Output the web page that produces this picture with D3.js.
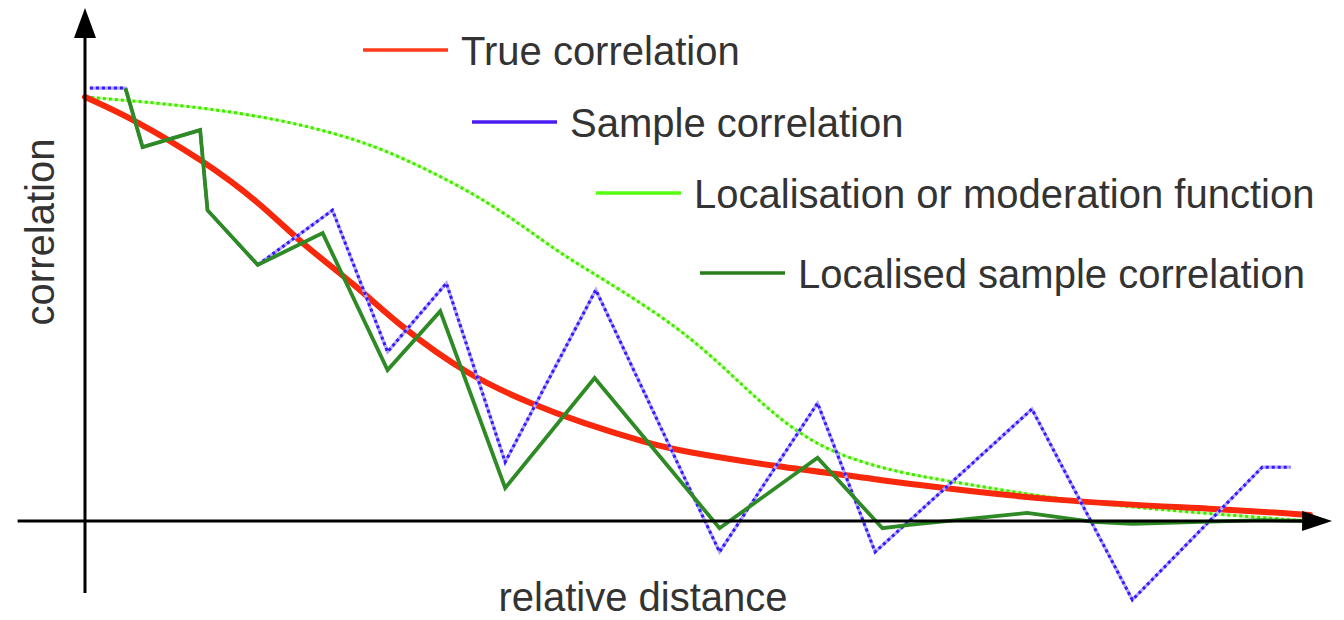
<!DOCTYPE html>
<html><head><meta charset="utf-8">
<script src="https://cdn.jsdelivr.net/npm/d3@7"></script>
<style>html,body{margin:0;padding:0;background:#fff;} svg{display:block;}</style>
</head><body>
<svg id="chart" width="1344" height="620"></svg>
<script>
// ---- data (relative distance 0..100, correlation) ----
const trueDist = [0, 4.1, 9.6, 14.3, 17.6, 22.2, 25.6, 31.2, 36.6, 40.4, 46.1, 48.6, 56.7, 63.3, 66.5, 79.6, 92.7, 100];
const trueCorr = [1.0, 0.946, 0.851, 0.750, 0.656, 0.554, 0.462, 0.344, 0.274, 0.233, 0.182, 0.165, 0.127, 0.104, 0.090, 0.045, 0.029, 0.014];

const sampleDist = [0.4, 3.3, 4.7, 9.4, 10.0, 14.1, 20.2, 24.7, 29.5, 34.3, 41.7, 51.8, 59.8, 64.5, 77.3, 85.5, 96.1, 98.4];
const sampleCorr = [1.021, 1.021, 0.882, 0.922, 0.733, 0.604, 0.733, 0.399, 0.561, 0.139, 0.545, -0.073, 0.278, -0.073, 0.264, -0.186, 0.127, 0.127];

const locDist = [0, 6.1, 14.3, 22.5, 27.9, 33.3, 38.8, 41.9, 48.6, 52.7, 56.7, 60.8, 66.5, 71.4, 79.6, 87.8, 99.8];
const locValue = [1.0, 0.986, 0.958, 0.901, 0.830, 0.748, 0.630, 0.578, 0.455, 0.347, 0.238, 0.160, 0.113, 0.090, 0.050, 0.026, 0.0];

const localisedDist = [3.3, 4.7, 9.4, 10.0, 14.1, 19.4, 24.7, 29.0, 34.3, 41.6, 51.8, 59.8, 65.1, 67.3, 76.9, 82.3, 85.5, 96.1, 99.8];
const localisedCorr = [1.021, 0.882, 0.922, 0.733, 0.604, 0.679, 0.356, 0.495, 0.078, 0.337, -0.017, 0.149, -0.017, -0.009, 0.019, -0.002, -0.007, 0.002, 0.0];

const legendLabels = ["True correlation", "Sample correlation", "Localisation or moderation function", "Localised sample correlation"];
const xLabel = "relative distance";
const yLabel = "correlation";

// ---- drawing ----
const svg = d3.select("#chart");
svg.append("rect").attr("width", 1344).attr("height", 620).attr("fill", "#fff");

const x = d3.scaleLinear().domain([0, 100]).range([85, 1310]);
const y = d3.scaleLinear().domain([0, 1]).range([521, 97]);

const zip = (a, b) => a.map((v, i) => [v, b[i]]);
const lineLin = d3.line().x(d => x(d[0])).y(d => y(d[1]));
const lineSmooth = d3.line().x(d => x(d[0])).y(d => y(d[1])).curve(d3.curveBasis);

const g = svg.append("g");

// localisation function (dotted light green)
g.append("path").attr("d", lineSmooth(zip(locDist, locValue)))
  .attr("fill", "none").attr("stroke", "#c4ffa0").attr("stroke-width", 3);
g.append("path").attr("d", lineSmooth(zip(locDist, locValue)))
  .attr("fill", "none").attr("stroke", "#3fe800").attr("stroke-width", 3)
  .attr("stroke-dasharray", "3,3");

// true correlation (thick red)
g.append("path").attr("d", lineSmooth(zip(trueDist, trueCorr)))
  .attr("fill", "none").attr("stroke", "#f7280c").attr("stroke-width", 6)
  .attr("stroke-linejoin", "round").attr("stroke-linecap", "round");

// sample correlation (dotted blue)
g.append("path").attr("d", lineLin(zip(sampleDist, sampleCorr)))
  .attr("fill", "none").attr("stroke", "#b3a9ff").attr("stroke-width", 3.2);
g.append("path").attr("d", lineLin(zip(sampleDist, sampleCorr)))
  .attr("fill", "none").attr("stroke", "#3518ff").attr("stroke-width", 3)
  .attr("stroke-dasharray", "3,3");

// localised sample correlation (dark green)
g.append("path").attr("d", lineLin(zip(localisedDist, localisedCorr)))
  .attr("fill", "none").attr("stroke", "#2e8a24").attr("stroke-width", 3.8)
  .attr("stroke-linejoin", "miter");

// axes
const ax = svg.append("g");
const x0 = x(0), y0 = y(0);
const xLeft = x(-5.5), xTip = x(101.8);
const yBottom = y(-0.17), yTip = y(1.21);
ax.append("line").attr("x1", xLeft).attr("x2", xTip - 20).attr("y1", y0).attr("y2", y0)
  .attr("stroke", "#000").attr("stroke-width", 3);
ax.append("path").attr("d", `M${xTip},${y0} L${xTip - 30},${y0 - 10} L${xTip - 30},${y0 + 10} Z`).attr("fill", "#000");
ax.append("line").attr("x1", x0).attr("x2", x0).attr("y1", yBottom).attr("y2", yTip + 20)
  .attr("stroke", "#000").attr("stroke-width", 3);
ax.append("path").attr("d", `M${x0},${yTip} L${x0 - 11},${yTip + 30} L${x0 + 11},${yTip + 30} Z`).attr("fill", "#000");

// axis labels
const font = "'Liberation Sans', Arial, sans-serif";
svg.append("text").text(xLabel).attr("x", 643).attr("y", 611)
  .attr("text-anchor", "middle").attr("font-family", font).attr("font-size", 40).attr("fill", "#333");
svg.append("text").text(yLabel).attr("transform", "translate(54,232) rotate(-90)")
  .attr("text-anchor", "middle").attr("font-family", font).attr("font-size", 40).attr("fill", "#333");

// legend
const legendColors = ["#ff3a1a", "#4b1cf2", "#55ff10", "#2a7d1a"];
const legendLineX = [363, 472, 596, 700];
const legendLineY = [50, 122, 193, 273];
legendLabels.forEach((lab, i) => {
  const lg = svg.append("g");
  lg.append("line").attr("x1", legendLineX[i]).attr("x2", legendLineX[i] + 85)
    .attr("y1", legendLineY[i]).attr("y2", legendLineY[i])
    .attr("stroke", legendColors[i]).attr("stroke-width", 3.5);
  lg.append("text").text(lab).attr("x", legendLineX[i] + 98).attr("y", legendLineY[i] + 15)
    .attr("font-family", font).attr("font-size", 40).attr("fill", "#333");
});
</script>
</body></html>
